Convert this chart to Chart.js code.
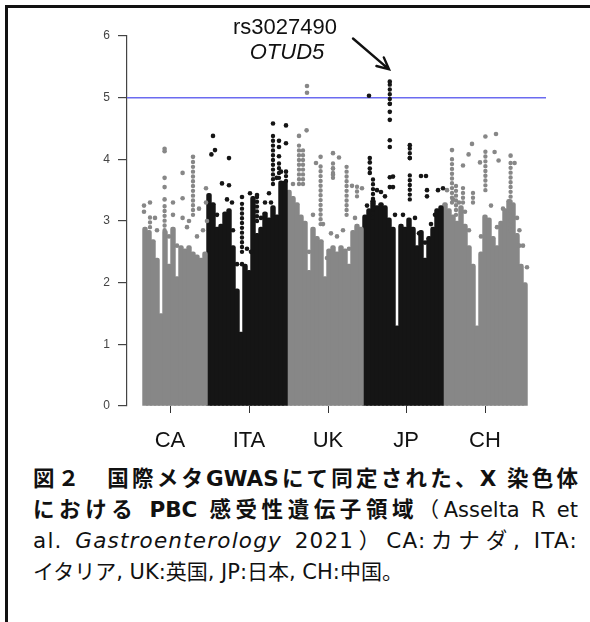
<!DOCTYPE html>
<html>
<head>
<meta charset="utf-8">
<script src="https://cdn.jsdelivr.net/npm/chart.js@4.4.1/dist/chart.umd.min.js"></script>
<style>
  body { margin: 0; background: #fff; }
  #wrap { position: relative; width: 590px; height: 622px; overflow: hidden; background: #fff; }
  #plot { position: absolute; left: 0; top: 0; }
  .frameTop { position: absolute; left: 5px; top: 5px; width: 585px; height: 3px; background: #111; }
  .frameLeft { position: absolute; left: 5px; top: 5px; width: 3px; height: 617px; background: #111; }
  .note { position: absolute; width: 200px; text-align: center; font-family: "Liberation Sans", Arial, sans-serif; font-size: 22px; line-height: 26px; color: #111; }
  .cap { position: absolute; left: 33px; white-space: nowrap; font-family: "DejaVu Sans", "Noto Sans CJK JP", sans-serif; font-size: 21px; line-height: 30px; color: #111; }
  .fit { width: 545px; text-align: justify; text-align-last: justify; }
  .big { font-size: 21.5px; }
  .airy { font-size: 21.5px; letter-spacing: 1.2px; }
</style>
</head>
<body>
<div id="wrap">
  <canvas id="plot" width="590" height="460"></canvas>
  <div class="note" style="left:185px; top:14px;">rs3027490</div>
  <div class="note" style="left:187px; top:39px; font-style:italic;">OTUD5</div>
  <div class="frameTop"></div>
  <div class="frameLeft"></div>
  <div class="cap fit big" style="top:464px;"><b>図２　国際メタGWASにて同定された、X 染色体</b></div>
  <div class="cap fit" style="top:495px;"><b class="big">における PBC 感受性遺伝子領域</b>（Asselta R et</div>
  <div class="cap fit airy" style="top:526px;">al. <i>Gastroenterology</i> 2021）CA:カナダ, ITA:</div>
  <div class="cap" style="top:557px;">イタリア, UK:英国, JP:日本, CH:中国。</div>
</div>
<script>
// cohorts along the X chromosome axis
const cohorts = ['CA', 'ITA', 'UK', 'JP', 'CH'];
const cohortTicks = [6.25, 26, 45.75, 65.25, 85];
const yTicks = [0, 1, 2, 3, 4, 5, 6];
const threshold = 5;
const xRange = [-4.5, 100.25];

// -log10(P) of the solid block, one value per narrow column, left to right
const caBody = [2.9, 2.85, 2.7, 2.4, 1.5, 2.85, 2.3, 2.9, 2.1, 2.6, 2.55, 2.6, 2.5, 2.45, 2.4, 2.5];
const itaBody = [3.45, 3.3, 2.9, 2.95, 3.15, 3.2, 2.6, 1.9, 1.2, 2.3, 2.2, 3.4, 2.8, 2.9, 3.15, 3.05, 3.25, 3.1, 3.65, 3.65];
const ukBody = [3.5, 3.4, 3.3, 3.1, 3.0, 2.2, 2.9, 2.75, 2.7, 2.1, 2.55, 2.6, 2.5, 2.6, 2.55, 2.3, 2.85, 2.95, 2.9];
const jpBody = [3.1, 3.2, 3.35, 3.25, 3.3, 3.25, 3.05, 2.9, 1.3, 2.95, 2.9, 3.05, 2.9, 2.6, 2.85, 2.4, 2.75, 2.9, 3.2, 3.25];
const chBody = [3.3, 3.2, 3.1, 3.0, 3.25, 2.95, 2.6, 2.3, 1.3, 2.5, 3.1, 3.05, 2.75, 2.6, 3.0, 3.2, 3.35, 3.3, 2.8, 2.3, 2.0];

// dotted columns of SNPs above the block: [position, low, high]
const caStreaks = [[12.0, 3.1, 3.97], [4.9, 2.85, 3.25], [1.25, 2.9, 3.1]];
const itaStreaks = [[32.0, 3.6, 4.45], [33.5, 3.7, 4.0], [24.25, 2.5, 3.35], [28.0, 3.0, 3.4], [35.25, 3.65, 3.8]];
const ukStreaks = [[38.5, 3.6, 4.3], [39.5, 3.6, 4.2], [43.9, 2.95, 3.95], [47.0, 3.7, 3.97], [50.4, 3.1, 3.94], [53.0, 3.4, 3.6]];
const jpStreaks = [[61.2, 4.9, 5.26], [66.2, 3.35, 3.75], [57.0, 3.05, 3.72], [66.2, 4.02, 4.23]];
const chStreaks = [[76.75, 3.3, 4.05], [85.1, 3.5, 4.2], [91.4, 2.85, 3.99], [79.5, 3.3, 3.55], [82.0, 3.3, 3.5], [77.75, 3.1, 3.6]];

// isolated SNPs: [position, -log10(P)]
const caDots = [[-0.25, 3.25], [-0.25, 3.15], [1.25, 3.3], [4.9, 4.17], [4.9, 4.13], [4.9, 3.7], [4.9, 3.55], [4.9, 3.35],
  [7.0, 3.3], [7.0, 3.1], [9.4, 3.78], [9.4, 3.37], [9.4, 3.05], [12.0, 4.04], [15.25, 3.53], [15.25, 3.3], [13.5, 3.2],
  [2.5, 3.05], [3.0, 2.85], [6.0, 2.75], [8.0, 2.6], [10.5, 2.9], [11.0, 3.0], [13.0, 2.75], [14.5, 2.85], [15.5, 3.0]];
const itaDots = [[17.0, 4.38], [17.5, 4.15], [16.6, 4.08], [21.0, 4.02], [19.25, 3.61], [21.0, 3.58], [32.0, 4.58],
  [33.5, 4.3], [33.5, 4.2], [33.5, 4.05], [35.25, 4.55], [35.25, 4.26], [35.25, 3.8], [24.25, 3.39], [24.25, 2.3],
  [28.0, 3.42], [31.0, 3.45], [32.9, 3.7], [26.25, 3.45], [21.75, 3.3],
  [18.0, 3.1], [20.5, 3.35], [22.0, 2.85], [23.0, 2.3], [25.5, 2.55], [26.5, 2.5], [29.0, 3.05], [30.0, 3.3], [31.5, 3.3], [34.0, 3.8]];
const ukDots = [[40.5, 5.19], [40.5, 5.08], [40.4, 4.47], [38.5, 4.38], [43.9, 4.04], [47.0, 4.1], [48.5, 4.03],
  [42.75, 3.94], [51.75, 3.57], [54.25, 3.53], [47.0, 3.85], [47.0, 3.75],
  [37.0, 3.6], [41.0, 2.5], [42.0, 3.1], [44.5, 2.95], [45.5, 2.4], [46.5, 2.8], [48.0, 2.75], [49.5, 2.85], [51.0, 2.55], [52.5, 3.05]];
const jpDots = [[56.0, 5.03], [61.2, 5.26], [61.2, 4.9], [61.2, 4.77], [61.2, 4.64], [61.2, 4.31], [61.2, 4.2],
  [61.2, 3.71], [61.2, 3.55], [56.2, 4.02], [56.2, 3.95], [56.2, 3.85], [56.2, 3.78], [66.2, 4.23], [66.2, 4.02],
  [69.0, 3.73], [70.25, 3.73], [70.5, 3.5], [70.5, 3.4], [73.25, 3.5], [74.5, 3.53], [62.0, 3.72], [62.0, 3.55], [59.0, 3.47],
  [55.5, 3.25], [58.0, 3.5], [60.0, 3.4], [62.5, 3.1], [64.5, 3.1], [67.5, 3.05], [68.5, 2.8], [70.0, 2.65], [71.5, 2.95], [72.5, 3.1]];
const chDots = [[76.75, 4.15], [80.9, 4.08], [81.75, 4.25], [85.1, 4.37], [87.75, 4.41], [87.4, 4.12], [91.4, 4.06],
  [92.4, 3.94], [88.4, 3.98], [83.75, 3.95], [79.5, 3.9], [93.6, 2.85], [93.6, 2.6],
  [75.5, 3.5], [77.0, 3.35], [78.5, 3.3], [80.0, 3.15], [81.0, 2.85], [84.0, 2.75], [86.5, 3.25], [88.0, 2.9], [89.5, 3.2],
  [93.0, 3.05], [94.5, 2.6], [95.5, 2.25]];

// annotation arrow for the top hit
const arrowFrom = [52.0, 5.96];
const arrowTo = [61.0, 5.46];

const grey = '#878787';
const black = '#151515';
const shades = [grey, black, grey, black, grey];

const datasets = [];
let start = 0;
[caBody, itaBody, ukBody, jpBody, chBody].forEach((arr, k) => {
  datasets.push({
    type: 'bar',
    data: arr.map((v, i) => ({ x: start + i, y: v })),
    backgroundColor: shades[k],
    barThickness: 4.8,
    borderRadius: { topLeft: 2.2, topRight: 2.2, bottomLeft: 0, bottomRight: 0 },
    borderSkipped: 'start',
    grouped: false,
    order: 2
  });
  start += arr.length;
});
[caStreaks, itaStreaks, ukStreaks, jpStreaks, chStreaks].forEach((arr, k) => {
  datasets.push({
    type: 'line',
    data: arr.flatMap(s => [{ x: s[0], y: s[1] }, { x: s[0], y: s[2] }, { x: s[0], y: null }]),
    borderColor: shades[k],
    borderWidth: 4.4,
    borderDash: [0, 4.8],
    borderCapStyle: 'round',
    pointRadius: 0,
    spanGaps: false,
    order: 1
  });
});
[caDots, itaDots, ukDots, jpDots, chDots].forEach((arr, k) => {
  datasets.push({
    type: 'scatter',
    data: arr.map(d => ({ x: d[0], y: d[1] })),
    backgroundColor: shades[k],
    borderWidth: 0,
    pointRadius: 2.3,
    order: 0
  });
});
datasets.push({
  type: 'line',
  data: [{ x: xRange[0], y: threshold }, { x: xRange[1], y: threshold }],
  borderColor: '#6b6bf0',
  borderWidth: 1.5,
  pointRadius: 0,
  order: 3
});

const arrowPlugin = {
  id: 'arrow',
  afterDatasetsDraw(chart) {
    const { x, y } = chart.scales;
    const x1 = x.getPixelForValue(arrowFrom[0]), y1 = y.getPixelForValue(arrowFrom[1]);
    const x2 = x.getPixelForValue(arrowTo[0]), y2 = y.getPixelForValue(arrowTo[1]);
    const ang = Math.atan2(y2 - y1, x2 - x1);
    const ctx = chart.ctx;
    ctx.save();
    ctx.strokeStyle = '#111';
    ctx.lineWidth = 2.4;
    ctx.lineCap = 'round';
    ctx.beginPath();
    ctx.moveTo(x1, y1);
    ctx.lineTo(x2, y2);
    ctx.moveTo(x2 - 13 * Math.cos(ang - 0.45), y2 - 13 * Math.sin(ang - 0.45));
    ctx.lineTo(x2, y2);
    ctx.lineTo(x2 - 13 * Math.cos(ang + 0.45), y2 - 13 * Math.sin(ang + 0.45));
    ctx.stroke();
    ctx.restore();
  }
};

new Chart(document.getElementById('plot').getContext('2d'), {
  type: 'bar',
  data: { datasets: datasets },
  plugins: [arrowPlugin],
  options: {
    responsive: false,
    animation: false,
    layout: { padding: { top: 36, right: 44, left: 0, bottom: 0 } },
    plugins: { legend: { display: false }, tooltip: { enabled: false } },
    scales: {
      x: {
        type: 'linear',
        min: xRange[0],
        max: xRange[1],
        offset: false,
        afterBuildTicks: s => { s.ticks = cohortTicks.map(v => ({ value: v })); },
        afterFit: s => { s.height = 54; },
        grid: { offset: false, drawOnChartArea: false, drawTicks: true, tickLength: 7, color: '#333', lineWidth: 1 },
        border: { display: false },
        ticks: {
          autoSkip: false, maxRotation: 0, padding: 15, color: '#111',
          font: { family: 'Liberation Sans', size: 22 },
          callback: (v, i) => cohorts[i]
        }
      },
      y: {
        type: 'linear',
        min: 0,
        max: 6,
        afterBuildTicks: s => { s.ticks = yTicks.map(v => ({ value: v })); },
        afterFit: s => { s.width = 127; },
        grid: { drawOnChartArea: false, tickLength: 9, color: '#444', lineWidth: 1.2 },
        border: { display: true, color: '#444', width: 1.2 },
        ticks: { padding: 8, color: '#444', font: { family: 'Liberation Sans', size: 12 } }
      }
    }
  }
});
</script>
</body>
</html>
